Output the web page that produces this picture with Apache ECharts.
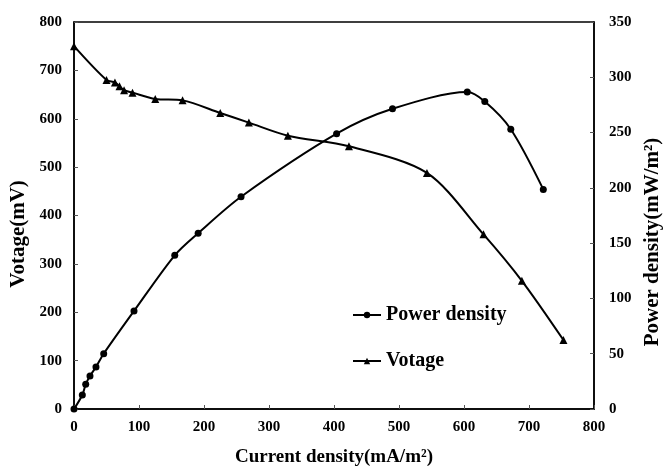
<!DOCTYPE html>
<html><head><meta charset="utf-8">
<script src="https://cdn.jsdelivr.net/npm/echarts@6/dist/echarts.min.js"></script>
<style>html,body{margin:0;padding:0;background:#fff}#c{width:665px;height:476px}</style>
</head><body><div id="c"></div>
<script>
const powerX = [0, 12.8, 18, 24.6, 33.8, 45.7, 92.3, 155, 191, 257, 404, 490, 605, 632, 672, 722];
const powerY = [0, 12.7, 22.3, 29.8, 38, 50, 88.6, 139, 159, 192, 249, 271.5, 286.6, 278, 253, 198.6];
const voltX = [0, 50, 63, 70, 77, 90, 125, 167, 225, 269, 329, 423, 543, 630, 689, 753];
const voltY = [750, 680, 675, 667, 659, 654, 641, 638, 612, 592, 565, 543, 488, 361, 265, 142.6];
const xTicks = {min: 0, max: 800, interval: 100};
const leftTicks = {min: 0, max: 800, interval: 100};
const rightTicks = {min: 0, max: 350, interval: 50};

const font = 'Liberation Serif';
const tickLabel = {fontFamily: font, fontWeight: 'bold', fontSize: 15, color: '#000'};
const axisLine = {show: true, lineStyle: {color: '#000', width: 1.5}};
const axisTick = {show: true, inside: true, length: 4, lineStyle: {color: '#555', width: 1}};

const chart = echarts.init(document.getElementById('c'));
chart.setOption({
  animation: false,
  backgroundColor: '#fff',
  grid: {left: 74, right: 71, top: 22, bottom: 67, show: true, borderColor: '#000', borderWidth: 1.5,
         containLabel: false, outerBoundsMode: 'none'},
  legend: {
    orient: 'vertical', left: 347, top: 300, itemGap: 26, itemWidth: 28, itemHeight: 8,
    textStyle: {fontFamily: font, fontWeight: 'bold', fontSize: 20, color: '#000'},
    data: ['Power density', 'Votage']
  },
  xAxis: {
    type: 'value', min: xTicks.min, max: xTicks.max, interval: xTicks.interval,
    name: 'Current density(mA/m²)', nameLocation: 'middle', nameGap: 39,
    nameTextStyle: {fontFamily: font, fontWeight: 'bold', fontSize: 19, color: '#000'},
    axisLine: axisLine, axisTick: axisTick, splitLine: {show: false},
    axisLabel: Object.assign({margin: 11}, tickLabel)
  },
  yAxis: [{
    type: 'value', min: leftTicks.min, max: leftTicks.max, interval: leftTicks.interval,
    name: 'Votage(mV)', nameLocation: 'middle', nameGap: 40,
    nameTextStyle: {fontFamily: font, fontWeight: 'bold', fontSize: 21, color: '#000', padding: [0, 37, 0, 0]},
    axisLine: axisLine, axisTick: axisTick, splitLine: {show: false},
    axisLabel: Object.assign({margin: 12}, tickLabel)
  }, {
    type: 'value', position: 'right', min: rightTicks.min, max: rightTicks.max, interval: rightTicks.interval,
    name: 'Power density(mW/m²)', nameLocation: 'middle', nameGap: 44, nameRotate: 90,
    nameTextStyle: {fontFamily: font, fontWeight: 'bold', fontSize: 21, color: '#000', padding: [0, 53, 0, 0]},
    axisLine: axisLine, axisTick: axisTick, splitLine: {show: false},
    axisLabel: Object.assign({margin: 15}, tickLabel)
  }],
  series: [{
    name: 'Power density', type: 'line', yAxisIndex: 1, smooth: 0.3,
    symbol: 'circle', symbolSize: 7,
    itemStyle: {color: '#000'}, lineStyle: {color: '#000', width: 2},
    data: powerX.map((x, i) => [x, powerY[i]])
  }, {
    name: 'Votage', type: 'line', yAxisIndex: 0, smooth: 0.3,
    symbol: 'triangle', symbolSize: 8,
    itemStyle: {color: '#000'}, lineStyle: {color: '#000', width: 2},
    data: voltX.map((x, i) => [x, voltY[i]])
  }]
});
</script></body></html>
